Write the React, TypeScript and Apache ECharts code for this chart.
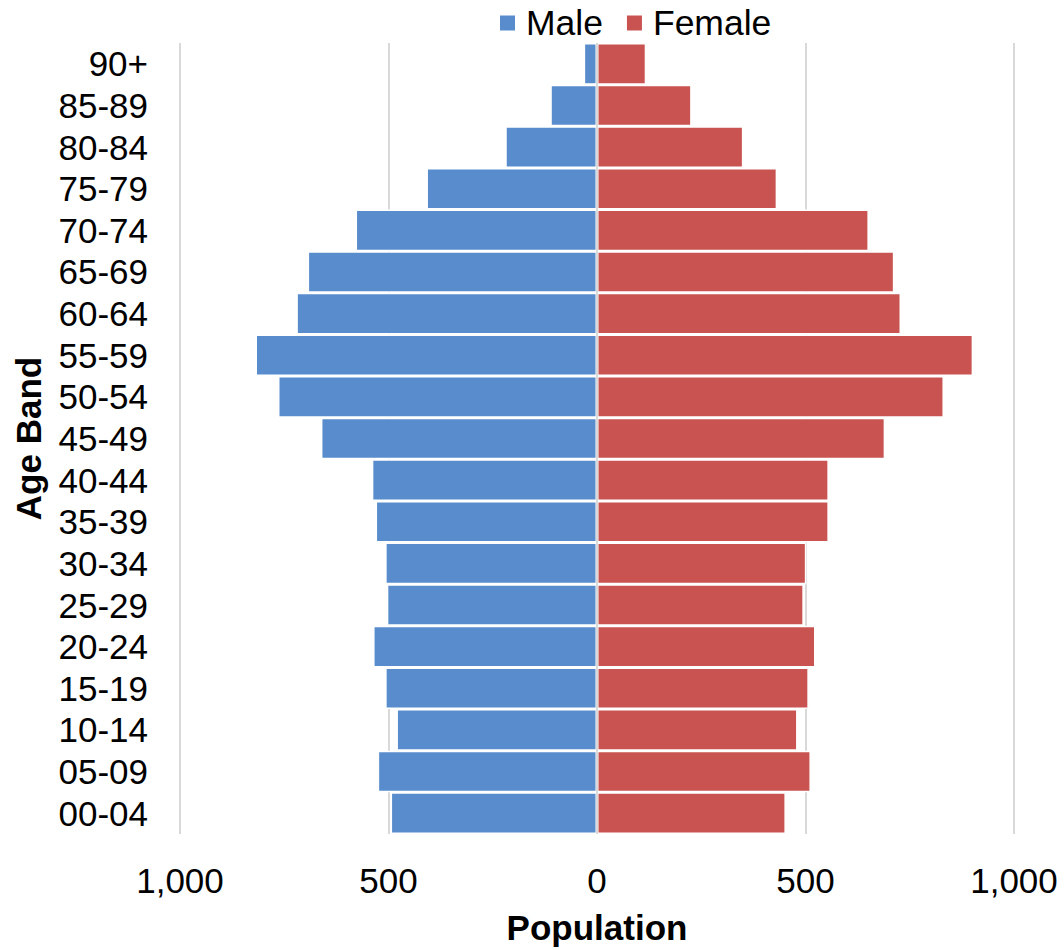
import React, { useEffect, useRef } from "react";
import * as echarts from "echarts";

const ageBands = ["00-04", "05-09", "10-14", "15-19", "20-24", "25-29", "30-34", "35-39", "40-44", "45-49", "50-54", "55-59", "60-64", "65-69", "70-74", "75-79", "80-84", "85-89", "90+"];
const maleValues = [495, 526, 481, 508, 537, 504, 508, 531, 540, 662, 765, 819, 721, 694, 579, 409, 220, 112, 32];
const femaleValues = [453, 513, 481, 508, 524, 496, 502, 556, 556, 691, 832, 902, 729, 713, 652, 432, 351, 227, 118];
const xTicks = { min: -1000, max: 1000, interval: 500 };

const FONT = "'Liberation Sans', Arial, sans-serif";

export default function App() {
  const ref = useRef<HTMLDivElement>(null);
  useEffect(() => {
    document.body.style.margin = "0";
    const chart = echarts.init(ref.current!, null, { renderer: "svg" });
    chart.setOption({
      animation: false,
      backgroundColor: "#ffffff",
      textStyle: { fontFamily: FONT },
      legend: {
        top: 0,
        left: 493,
        itemWidth: 17,
        itemHeight: 17,
        itemGap: 22,
        icon: "rect",
        textStyle: { fontSize: 35.5, color: "#000", fontFamily: FONT, padding: [0, 0, 0, 5] },
        data: ["Male", "Female"],
      },
      grid: { left: 180, right: 50, top: 43, bottom: 114, containLabel: false },
      xAxis: {
        type: "value",
        min: xTicks.min,
        max: xTicks.max,
        interval: xTicks.interval,
        name: "Population",
        nameLocation: "middle",
        nameGap: 76,
        nameTextStyle: { fontSize: 35, fontWeight: "bold", color: "#000", fontFamily: FONT },
        axisLine: { show: false },
        axisTick: { show: false },
        axisLabel: {
          fontSize: 35,
          color: "#000",
          margin: 29,
          fontFamily: FONT,
          formatter: (v: number) => Math.abs(v).toLocaleString("en-US"),
        },
        splitLine: { show: true, lineStyle: { color: "#d9d9d9", width: 2 } },
      },
      yAxis: {
        type: "category",
        data: ageBands,
        name: "Age Band",
        nameLocation: "middle",
        nameRotate: 90,
        nameGap: 134,
        nameTextStyle: { fontSize: 35, fontWeight: "bold", color: "#000", fontFamily: FONT },
        axisLine: { show: false },
        axisTick: { show: false },
        axisLabel: { fontSize: 35, color: "#000", margin: 32, interval: 0, fontFamily: FONT },
        splitLine: { show: false },
      },
      series: [
        {
          name: "Male",
          type: "bar",
          data: maleValues.map((v) => -v),
          barGap: "-100%",
          barCategoryGap: "0%",
          itemStyle: { color: "#588CCC", borderColor: "#ffffff", borderWidth: 1.5 },
          markLine: {
            silent: true,
            symbol: ["none", "none"],
            label: { show: false },
            lineStyle: { color: "#d9d9d9", width: 2, type: "solid" },
            data: [{ xAxis: 0 }],
          },
        },
        {
          name: "Female",
          type: "bar",
          data: femaleValues,
          barGap: "-100%",
          barCategoryGap: "0%",
          itemStyle: { color: "#C85350", borderColor: "#ffffff", borderWidth: 1.5 },
        },
      ],
    });
    return () => chart.dispose();
  }, []);
  return <div ref={ref} style={{ width: 1064, height: 950 }} />;
}
